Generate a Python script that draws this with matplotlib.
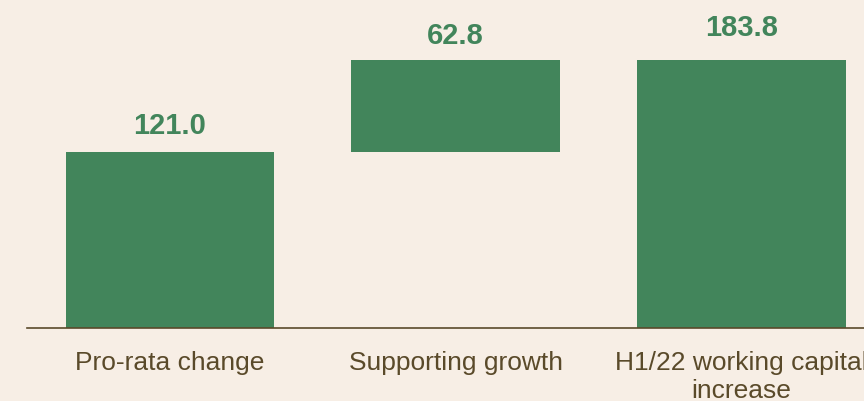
import matplotlib.pyplot as plt
import numpy as np

plt.rcParams['font.family'] = ['Liberation Sans', 'DejaVu Sans']

# data
categories = ["Pro-rata change", "Supporting growth", "H1/22 working capital\nincrease"]
bar_bottoms = [0.0, 121.0, 0.0]
bar_heights = [121.0, 62.8, 183.8]
value_labels = ["121.0", "62.8", "183.8"]

# style
bg = "#F7EEE5"
green = "#42855B"
brown = "#5A4A2A"
label_offsets = [19, 17, 25]  # px above bar top to text baseline

fig = plt.figure(figsize=(8.64, 4.02), dpi=100, facecolor=bg)
ax = fig.add_axes([27 / 864, 73 / 402, (884.5 - 27) / 864, 329 / 402])
ax.set_facecolor(bg)

x = np.arange(len(categories))
ax.bar(x, bar_heights, bottom=bar_bottoms, width=0.73, color=green)

for xi, b, h, txt, off in zip(x, bar_bottoms, bar_heights, value_labels, label_offsets):
    ax.annotate(txt, (xi, b + h), xytext=(0, off * 0.72), textcoords="offset points",
                ha="center", va="baseline", fontsize=21, fontweight="bold", color=green)

ax.set_xlim(-0.5, 2.5)
ax.set_ylim(0, 226)
ax.set_xticks(x)
ax.set_xticklabels(categories, fontsize=19, color=brown, linespacing=1.2)
ax.tick_params(axis="x", length=0, pad=16)
ax.set_yticks([])
for s in ["top", "right", "left"]:
    ax.spines[s].set_visible(False)
ax.spines["bottom"].set_color(brown)
ax.spines["bottom"].set_linewidth(1.2)

# the last label runs past the right edge in the original too
fig.savefig("out.png", dpi=100, facecolor=bg)
